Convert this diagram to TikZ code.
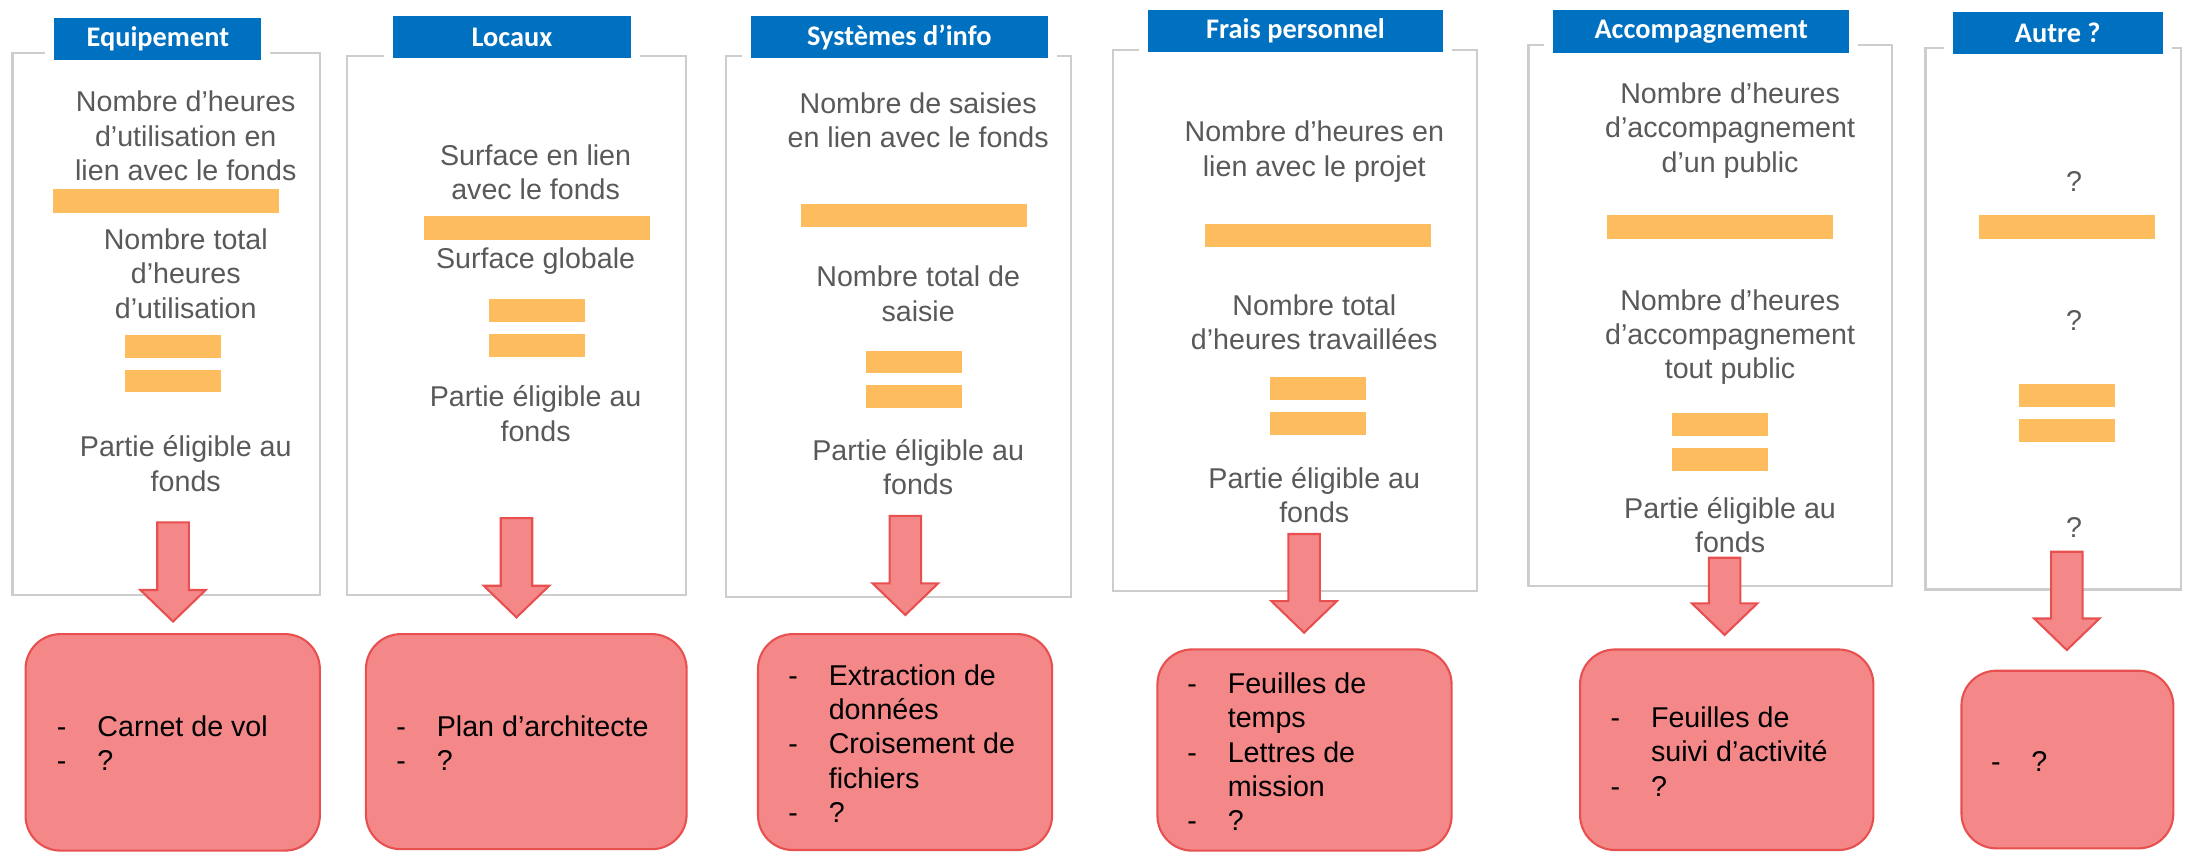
\documentclass[tikz,border=0pt]{standalone}
\usepackage{fontspec}
\setmainfont{Liberation Sans}
\newfontfamily\headfont{Carlito}
\usetikzlibrary{positioning}
\definecolor{framegray}{RGB}{205,205,205}
\definecolor{headblue}{RGB}{0,112,192}
\definecolor{barorange}{RGB}{253,189,94}
\definecolor{redfill}{RGB}{244,136,137}
\definecolor{redline}{RGB}{232,80,80}
\definecolor{txtgray}{RGB}{89,89,89}
\tikzstyle{Frame} = [draw=framegray, line width=1.6pt, inner sep=0pt]
\tikzstyle{Head} = [fill=headblue, text=white, inner sep=0pt,
font=\headfont\bfseries\fontsize{20.3}{24}\selectfont,
preaction={draw=white, line width=13pt}]
\tikzstyle{Txt} = [text=txtgray, inner sep=0pt, anchor=base,
font=\fontsize{20.5}{24.6}\selectfont]
\tikzstyle{Bar} = [fill=barorange, inner sep=0pt,
minimum width=161.5pt, minimum height=16.6pt]
\tikzstyle{Eq} = [fill=barorange, inner sep=0pt,
minimum width=68.8pt, minimum height=16.3pt]
\tikzstyle{Proof} = [draw=redline, fill=redfill, line width=1.5pt,
rounded corners=25pt, inner sep=0pt]
\tikzstyle{List} = [inner sep=0pt, anchor=base west,
font=\fontsize{20.5}{24.6}\selectfont]
\tikzstyle{BigArrow} = [draw=redline, fill=redfill, line width=1.5pt]
\newcommand{\stack}[1]{\begin{tabular}[t]{@{}c@{}}#1\end{tabular}}
\newcommand{\items}[1]{\begin{tabular}[t]{@{}p{29pt}@{}l@{}}#1\end{tabular}}
\newcommand{\fatarrow}[3]{%
\draw[BigArrow] (#1-11.3,#2) -- (#1+11.3,#2) -- (#1+11.3,#3-22.6)
-- (#1+23.4,#3-22.6) -- (#1,#3) -- (#1-23.4,#3-22.6)
-- (#1-11.3,#3-22.6) -- cycle;}

\begin{document}
\begin{tikzpicture}[x=1pt, y=-1pt]
    \useasboundingbox (0,0) rectangle (1568,614);
    \node [Frame, minimum width=220pt, minimum height=388pt] (f1) at (119,232) {};
    \node [Frame, minimum width=242.7pt, minimum height=386pt] (f2) at (369.65,233) {};
    \node [Frame, minimum width=247.4pt, minimum height=387.2pt] (f3) at (643.3,233.6) {};
    \node [Frame, minimum width=260.6pt, minimum height=387.2pt] (f4) at (927.3,229.4) {};
    \node [Frame, minimum width=260.3pt, minimum height=387.4pt] (f5) at (1224.45,225.9) {};
    \node [Frame, minimum width=183pt, minimum height=387.4pt] (f6) at (1470.1,228.3) {};
    \node [Head, minimum width=148pt, minimum height=30pt] (h1) at (113,28) {Equipement};
    \node [Head, minimum width=170pt, minimum height=30.3pt] (h2) at (366.6,26.6) {Locaux};
    \node [Head, minimum width=212.3pt, minimum height=30.3pt] (h3) at (643.9,26.6) {Systèmes d’info};
    \node [Head, minimum width=211.6pt, minimum height=30.3pt] (h4) at (927.5,22.3) {Frais personnel};
    \node [Head, minimum width=212pt, minimum height=30.5pt] (h5) at (1218,22.4) {Accompagnement};
    \node [Head, minimum width=150.5pt, minimum height=30.1pt] (h6) at (1473.3,23.8) {Autre ?};

    \node [Txt] (t1a) at (133,80.1) {\stack{Nombre d’heures\\d’utilisation en\\lien avec le fonds}};
    \node [Bar] (b1) at (118.8,143.95) {};
    \node [Txt] (t1b) at (133,178.7) {\stack{Nombre total\\d’heures\\d’utilisation}};
    \node [Eq] (e1a) at (123.8,247.95) {};
    \node [Eq, below=8.2pt of e1a] (e1b) {};
    \node [Txt] (t1c) at (133,327.1) {\stack{Partie éligible au\\fonds}};

    \node [Txt] (t2a) at (383.5,118.3) {\stack{Surface en lien\\avec le fonds}};
    \node [Bar] (b2) at (384.5,163.2) {};
    \node [Txt] (t2b) at (383.5,192.3) {\stack{Surface globale}};
    \node [Eq] (e2a) at (384.5,222.3) {};
    \node [Eq, below=8.2pt of e2a] (e2b) {};
    \node [Txt] (t2c) at (383.5,291.3) {\stack{Partie éligible au\\fonds}};

    \node [Txt] (t3a) at (657.4,81.3) {\stack{Nombre de saisies\\en lien avec le fonds}};
    \node [Bar] (b3) at (654.45,154.5) {};
    \node [Txt] (t3b) at (657.4,205.3) {\stack{Nombre total de\\saisie}};
    \node [Eq] (e3a) at (654.3,259.15) {};
    \node [Eq, below=8.2pt of e3a] (e3b) {};
    \node [Txt] (t3c) at (657.4,329.5) {\stack{Partie éligible au\\fonds}};

    \node [Txt] (t4a) at (941,101.6) {\stack{Nombre d’heures en\\lien avec le projet}};
    \node [Bar] (b4) at (943.65,168.85) {};
    \node [Txt] (t4b) at (941,225.7) {\stack{Nombre total\\d’heures travaillées}};
    \node [Eq] (e4a) at (943.5,278.3) {};
    \node [Eq, below=8.2pt of e4a] (e4b) {};
    \node [Txt] (t4c) at (941,349.8) {\stack{Partie éligible au\\fonds}};

    \node [Txt] (t5a) at (1238.7,74.1) {\stack{Nombre d’heures\\d’accompagnement\\d’un public}};
    \node [Bar] (b5) at (1231.35,162.55) {};
    \node [Txt] (t5b) at (1238.7,222.1) {\stack{Nombre d’heures\\d’accompagnement\\tout public}};
    \node [Eq] (e5a) at (1231.5,304.1) {};
    \node [Eq, below=8.2pt of e5a] (e5b) {};
    \node [Txt] (t5c) at (1238.7,371.3) {\stack{Partie éligible au\\fonds}};

    \node [Txt] (t6a) at (1485,137.3) {?};
    \node [Bar, minimum width=126pt] (b6) at (1480,162.55) {};
    \node [Txt] (t6b) at (1485,236.4) {?};
    \node [Eq] (e6a) at (1480.15,283.1) {};
    \node [Eq, below=8.2pt of e6a] (e6b) {};
    \node [Txt] (t6c) at (1485,384.9) {?};

    \node [Proof, minimum width=210.7pt, minimum height=155pt] (r1) at (123.65,531.5) {};
    \node [Proof, minimum width=229.6pt, minimum height=154pt] (r2) at (376.8,531) {};
    \node [Proof, minimum width=210.6pt, minimum height=154.6pt] (r3) at (648,531.3) {};
    \node [Proof, minimum width=210.6pt, minimum height=144.1pt] (r4) at (934,537) {};
    \node [Proof, minimum width=210pt, minimum height=143.6pt] (r5) at (1236.3,536.8) {};
    \node [Proof, minimum width=151.7pt, minimum height=127.2pt] (r6) at (1480.2,543.8) {};
    \node [List] (l1) at (40.6,527.3) {\items{-&Carnet de vol\\-&?}};
    \node [List] (l2) at (283.6,527.3) {\items{-&Plan d’architecte\\-&?}};
    \node [List] (l3) at (564.2,490.6) {\items{-&Extraction de\\&données\\-&Croisement de\\&fichiers\\-&?}};
    \node [List] (l4) at (849.9,496.5) {\items{-&Feuilles de\\&temps\\-&Lettres de\\&mission\\-&?}};
    \node [List] (l5) at (1152.9,520.9) {\items{-&Feuilles de\\&suivi d’activité\\-&?}};
    \node [List] (l6) at (1425.3,552.6) {\items{-&?}};

    \fatarrow{123.9}{374}{445}
    \fatarrow{369.8}{371}{442}
    \fatarrow{648.2}{369.4}{440.3}
    \fatarrow{933.7}{382.3}{453}
    \fatarrow{1234.8}{399.3}{454.6}
    \fatarrow{1479.8}{395}{465.4}
\end{tikzpicture}
\end{document}
